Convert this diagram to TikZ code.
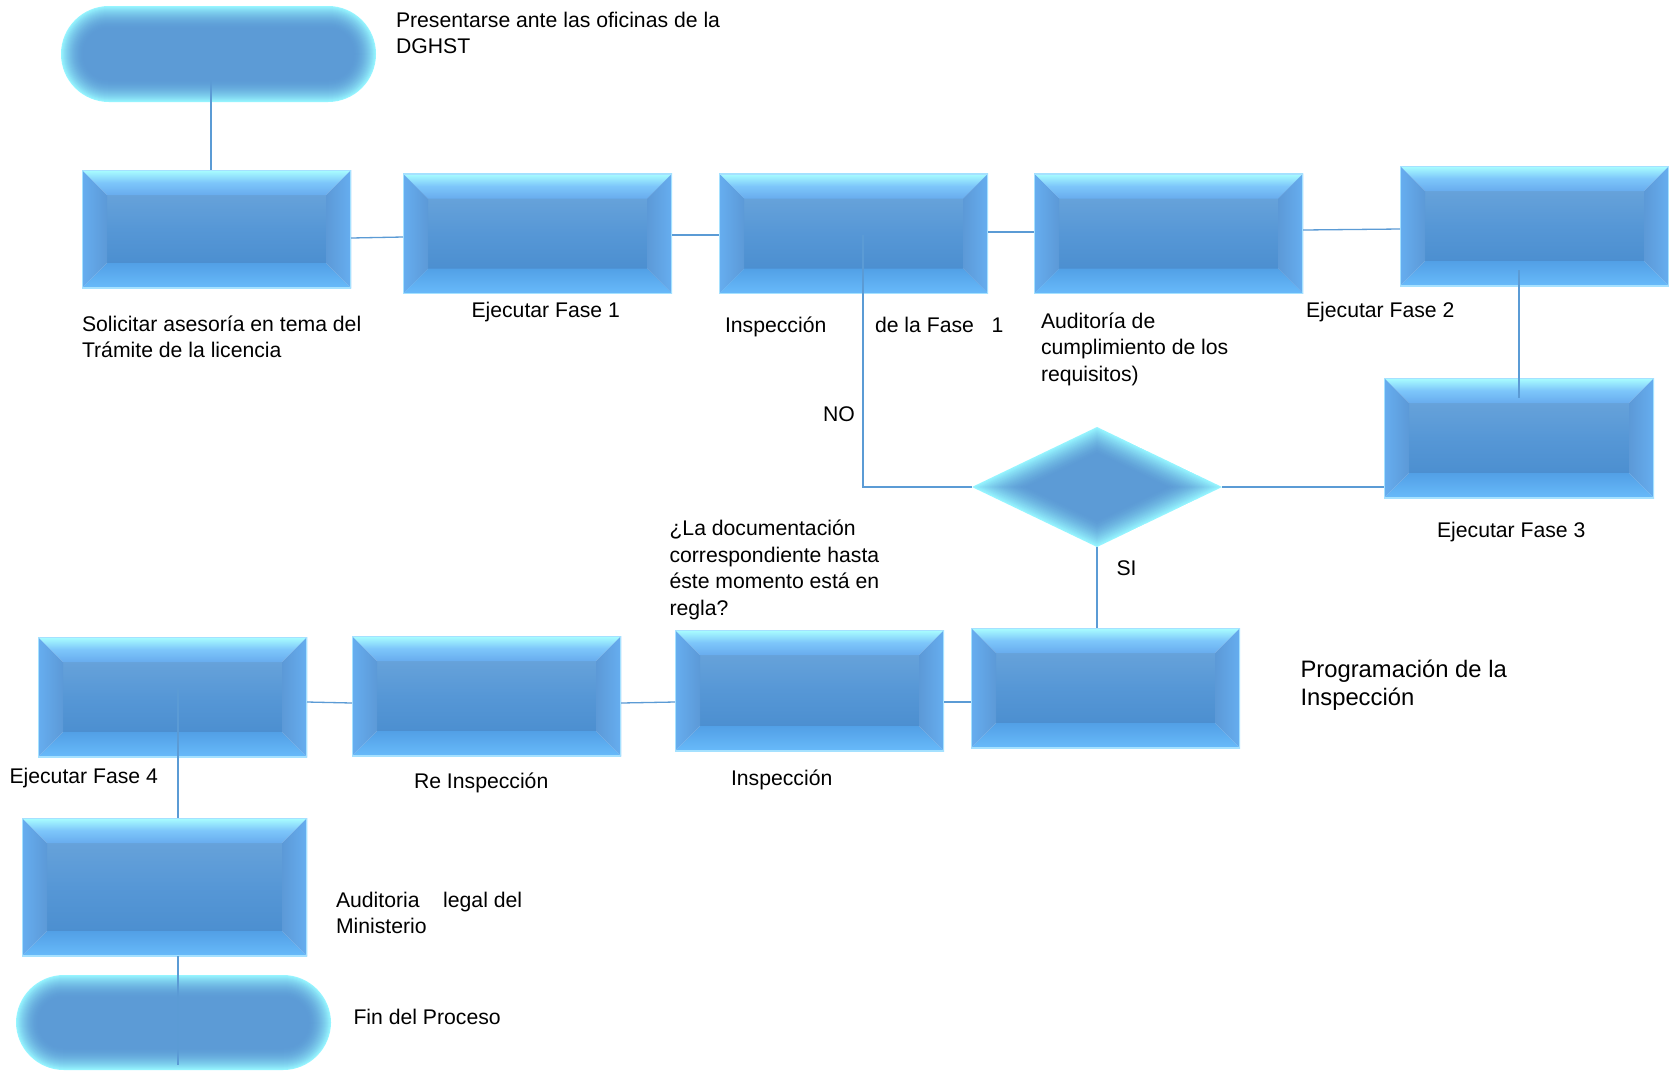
\documentclass[tikz,border=0pt]{standalone}
\usepackage{fontspec}
\setmainfont{Liberation Sans}
\usetikzlibrary{shapes.geometric}
\definecolor{cConn}{RGB}{91,155,213}
\definecolor{bvTopA}{RGB}{170,255,255}
\definecolor{bvTopM}{RGB}{125,198,250}
\definecolor{bvTopB}{RGB}{104,172,238}
\definecolor{bvCtrA}{RGB}{102,162,218}
\definecolor{bvCtrM}{RGB}{86,151,214}
\definecolor{bvCtrB}{RGB}{76,143,208}
\definecolor{bvBotA}{RGB}{82,160,230}
\definecolor{bvBotB}{RGB}{104,186,250}
\definecolor{bvSideO}{RGB}{102,174,240}
\definecolor{bvSideI}{RGB}{92,153,215}
\definecolor{bvRim}{RGB}{165,225,255}
\definecolor{plEdge}{RGB}{150,245,255}
\definecolor{plIn}{RGB}{92,155,214}
\newcommand\bevelpaint{%
  \coordinate (bNW) at (path picture bounding box.north west);
  \coordinate (bSE) at (path picture bounding box.south east);
  \coordinate (bNE) at (path picture bounding box.north east);
  \coordinate (bSW) at (path picture bounding box.south west);
  \coordinate (bnw) at ([xshift=25pt,yshift=-25pt]bNW);
  \coordinate (bne) at ([xshift=-25pt,yshift=-25pt]bNE);
  \coordinate (bsw) at ([xshift=25pt,yshift=25pt]bSW);
  \coordinate (bse) at ([xshift=-25pt,yshift=25pt]bSE);
  \shade[top color=bvCtrA, bottom color=bvCtrB, middle color=bvCtrM] (bnw) rectangle (bse);
  \shade[top color=bvTopA, bottom color=bvTopB, middle color=bvTopM] (bNW) -- (bNE) -- (bne) -- (bnw) -- cycle;
  \shade[top color=bvBotA, bottom color=bvBotB] (bsw) -- (bse) -- (bSE) -- (bSW) -- cycle;
  \shade[left color=bvSideO, right color=bvSideI] (bNW) -- (bnw) -- (bsw) -- (bSW) -- cycle;
  \shade[left color=bvSideI, right color=bvSideO] (bne) -- (bNE) -- (bSE) -- (bse) -- cycle;
  \draw[bvRim, line width=2pt] (bNW) rectangle (bSE);
}
\newcommand\pillpaint{%
  \coordinate (pNW) at (path picture bounding box.north west);
  \coordinate (pSE) at (path picture bounding box.south east);
  \foreach \i [evaluate=\i as \p using {int(100*(1-\i/24)^2)}, evaluate=\i as \r using {48-\i}] in {0,...,24} {
    \fill[plEdge!\p!plIn, rounded corners=\r pt] ([xshift=\i pt,yshift=-\i pt]pNW) rectangle ([xshift=-\i pt,yshift=\i pt]pSE);
  }
}
\newcommand\diapaint{%
  \coordinate (dC) at (path picture bounding box.center);
  \foreach \i [evaluate=\i as \p using {int(100*(1-\i/24)^1.6)}, evaluate=\i as \hw using {125*(1-0.019*\i)}, evaluate=\i as \hh using {60*(1-0.019*\i)}] in {0,...,24} {
    \fill[plEdge!\p!plIn] ([xshift=-\hw pt]dC) -- ([yshift=\hh pt]dC) -- ([xshift=\hw pt]dC) -- ([yshift=-\hh pt]dC) -- cycle;
  }
}
\tikzset{
  bevbox/.style={rectangle, inner sep=0pt, outer sep=0pt, minimum width=269pt, minimum height=120pt, path picture={\bevelpaint}},
  pill/.style={rectangle, inner sep=0pt, outer sep=0pt, minimum width=315pt, minimum height=96pt, path picture={\pillpaint}},
  decis/.style={diamond, aspect=2.0833, inner sep=0pt, outer sep=0pt, minimum width=250pt, minimum height=120pt, path picture={\diapaint}},
  conn/.style={draw=cConn, line width=1.3pt},
  txt/.style={anchor=base west, inner sep=0pt, outer sep=0pt, align=left, font=\fontsize{21.2pt}{26.5pt}\selectfont},
}
\begin{document}
\begin{tikzpicture}[x=1pt, y=-1pt]
\fill[white] (0,0) rectangle (1669,1072);
\useasboundingbox (0,0) rectangle (1669,1072);
% shapes
\node[pill] (t1) at (218.5,54) {};
\node[bevbox, minimum height=118pt] (b1) at (216.5,229) {};
\node[bevbox] (b2) at (537.5,233.5) {};
\node[bevbox] (b3) at (853.5,233.5) {};
\node[bevbox] (b4) at (1168.5,233.5) {};
\node[bevbox] (b5) at (1534.5,226) {};
\node[bevbox, minimum width=270pt] (b6) at (1519,438) {};
\node[decis] (dia) at (1097,487) {};
\node[bevbox] (prog) at (1105.5,688) {};
\node[bevbox, minimum height=121pt] (insp2) at (809.5,690.5) {};
\node[bevbox] (reinsp) at (486.5,696) {};
\node[bevbox] (fase4) at (172.5,697) {};
\node[bevbox, minimum width=285pt, minimum height=138pt] (aud) at (164.5,887) {};
\node[pill, minimum height=95pt] (t2) at (173.5,1022.5) {};
% connectors
\draw[conn] ([xshift=-7.5pt,yshift=-26pt]t1.center) -- ([xshift=-5.5pt]b1.north);
\draw[conn] ([yshift=-9pt]b1.east) -- ([yshift=-3.5pt]b2.west);
\draw[conn] ([yshift=-1.5pt]b2.east) -- ([yshift=-1.5pt]b3.west);
\draw[conn] ([yshift=1.5pt]b3.east) -- ([yshift=1.5pt]b4.west);
\draw[conn] ([yshift=3.5pt]b4.east) -- ([yshift=-3pt]b5.west);
\coordinate (v56) at (b6.north |- b5.south);
\draw[conn] ([yshift=16pt]v56) -- ([yshift=-20pt]b6.north);
\draw[conn] (dia.east) -- (dia.east -| b6.west);
\coordinate (nocorner) at ([xshift=9.5pt]b3.center |- dia.west);
\draw[conn] ([xshift=9.5pt,yshift=-1.5pt]b3.center) -- (nocorner) -- (dia.west);
\draw[conn] (dia.south) -- (dia.south |- prog.north);
\draw[conn] ([yshift=-14pt]prog.west) -- ([yshift=-11.5pt]insp2.east);
\draw[conn] ([yshift=-11.5pt]insp2.west) -- ([yshift=-7pt]reinsp.east);
\draw[conn] ([yshift=-7pt]reinsp.west) -- ([yshift=-5pt]fase4.east);
\draw[conn] ([xshift=5.5pt,yshift=9pt]fase4.center) -- ([xshift=13.5pt]aud.north);
\draw[conn] ([xshift=13.5pt]aud.south) -- ([xshift=4.5pt,yshift=-42.5pt]t2.center);
% texts (multi-line nodes: base = last line)
\node[txt] (l0) at (396,53.5) {Presentarse ante las oficinas de la\\DGHST};
\node[txt] (l1) at (82,357.5) {Solicitar asesoría en tema del\\Trámite de la licencia};
\node[txt] (l2) at (471.5,317) {Ejecutar Fase 1};
\node[txt] (l3a) at (725,332) {Inspección};
\node[txt] (l3b) at (875,332) {de la Fase~~~1};
\node[txt] (l4) at (1041,381) {Auditoría de\\cumplimiento de los\\requisitos)};
\node[txt] (l5) at (1306,317) {Ejecutar Fase 2};
\node[txt] (lno) at (823,421) {NO};
\node[txt] (l6) at (1437,537.5) {Ejecutar Fase 3};
\node[txt] (lsi) at (1116.5,575.5) {SI};
\node[txt] (lq) at (669.5,615) {¿La documentación\\correspondiente hasta\\éste momento está en\\regla?};
\node[txt, font=\fontsize{23.8pt}{28.5pt}\selectfont] (lprog) at (1300.5,705.5) {Programación de la\\Inspección};
\node[txt] (l7) at (9.5,783) {Ejecutar Fase 4};
\node[txt] (l8) at (414,788) {Re Inspección};
\node[txt] (l9) at (731,785.5) {Inspección};
\node[txt] (l10) at (336,933.5) {Auditoria~~~~legal del\\Ministerio};
\node[txt] (l11) at (353.5,1024) {Fin del Proceso};
\end{tikzpicture}
\end{document}
